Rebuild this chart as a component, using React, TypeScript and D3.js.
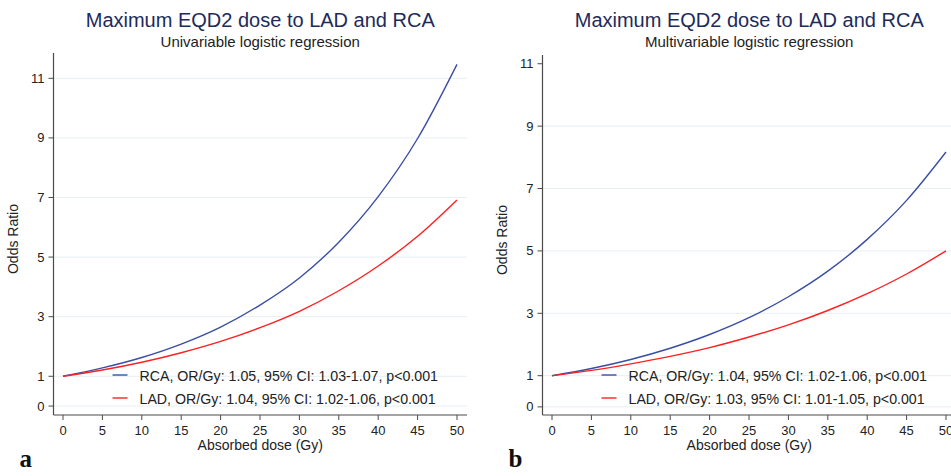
import React from "react";
import * as d3 from "d3";

// dose grid (Gy)
const DOSE = [0, 5, 10, 15, 20, 25, 30, 35, 40, 45, 50];

// panel a: univariable
const RCA_UNI = [1, 1.28, 1.63, 2.08, 2.65, 3.39, 4.3, 5.5, 7.03, 8.98, 11.47];
const LAD_UNI = [1, 1.21, 1.47, 1.79, 2.17, 2.63, 3.18, 3.87, 4.7, 5.7, 6.92];

// panel b: multivariable
const RCA_MULTI = [1, 1.23, 1.52, 1.88, 2.32, 2.86, 3.53, 4.35, 5.37, 6.62, 8.17];
const LAD_MULTI = [1, 1.17, 1.38, 1.62, 1.9, 2.24, 2.63, 3.09, 3.63, 4.26, 5.0];

const X_TICKS = [0, 5, 10, 15, 20, 25, 30, 35, 40, 45, 50];
const Y_TICKS = [0, 1, 3, 5, 7, 9, 11];

const TITLE = "Maximum EQD2 dose to LAD and RCA";
const LEGEND_A = [
  "RCA, OR/Gy: 1.05, 95% CI: 1.03-1.07, p<0.001",
  "LAD, OR/Gy: 1.04, 95% CI: 1.02-1.06, p<0.001",
];
const LEGEND_B = [
  "RCA, OR/Gy: 1.04, 95% CI: 1.02-1.06, p<0.001",
  "LAD, OR/Gy: 1.03, 95% CI: 1.01-1.05, p<0.001",
];

const BLUE = "#3a4ea3";
const RED = "#ff2020";
const GRID = "#e6eff2";
const AXIS = "#4a4a4a";
const FONT = "'Liberation Sans', Arial, sans-serif";

type PanelProps = {
  ox: number; // left edge of the plot area (axis line)
  yDomain: [number, number];
  yTop: number;
  subtitle: string;
  legend: string[];
  rca: number[];
  lad: number[];
  letter: string;
  gridTop: boolean;
};

const Panel = (p: PanelProps) => {
  const axisY = 415;
  const x = d3.scaleLinear().domain([0, 50]).range([p.ox + 9.5, p.ox + 403.5]);
  const y = d3.scaleLinear().domain(p.yDomain).range([axisY, p.yTop]);
  const right = p.ox + 413.5;
  const cx = (p.ox + right) / 2;

  const line = d3
    .line<number>()
    .x((_, i) => x(DOSE[i]))
    .y((d) => y(d))
    .curve(d3.curveMonotoneX);

  return (
    <g fontFamily={FONT}>
      <text x={cx} y={27} textAnchor="middle" fontSize={20} fill="#1d2b5b">
        {TITLE}
      </text>
      <text x={cx} y={47} textAnchor="middle" fontSize={15} fill="#222">
        {p.subtitle}
      </text>

      {Y_TICKS.filter((t) => p.gridTop || t !== 11).map((t) => (
        <line key={"g" + t} x1={p.ox} x2={right} y1={y(t)} y2={y(t)} stroke={GRID} strokeWidth={1} />
      ))}

      <line x1={p.ox} x2={p.ox} y1={p.yTop} y2={axisY} stroke={AXIS} strokeWidth={1.2} />
      <line x1={p.ox} x2={right} y1={axisY} y2={axisY} stroke={AXIS} strokeWidth={1.2} />

      {Y_TICKS.map((t) => (
        <g key={"y" + t}>
          <line x1={p.ox - 5} x2={p.ox} y1={y(t)} y2={y(t)} stroke={AXIS} strokeWidth={1} />
          <text x={p.ox - 9} y={y(t) + 4.5} textAnchor="end" fontSize={13} fill="#222">
            {t}
          </text>
        </g>
      ))}
      {X_TICKS.map((t) => (
        <g key={"x" + t}>
          <line x1={x(t)} x2={x(t)} y1={axisY} y2={axisY + 5} stroke={AXIS} strokeWidth={1} />
          <text x={x(t)} y={axisY + 20} textAnchor="middle" fontSize={13} fill="#222">
            {t}
          </text>
        </g>
      ))}

      <text
        transform={`translate(${p.ox - 36},${(p.yTop + axisY) / 2 + 5}) rotate(-90)`}
        textAnchor="middle"
        fontSize={14}
        fill="#222"
      >
        Odds Ratio
      </text>
      <text x={cx} y={axisY + 35} textAnchor="middle" fontSize={14} fill="#222">
        Absorbed dose (Gy)
      </text>

      <path d={line(p.rca) || ""} fill="none" stroke={BLUE} strokeWidth={1.4} />
      <path d={line(p.lad) || ""} fill="none" stroke={RED} strokeWidth={1.4} />

      {p.legend.map((s, i) => (
        <g key={"l" + i}>
          <line
            x1={p.ox + 59}
            x2={p.ox + 74}
            y1={375 + i * 23}
            y2={375 + i * 23}
            stroke={i === 0 ? BLUE : RED}
            strokeWidth={1.4}
          />
          <text x={p.ox + 86} y={381 + i * 23} fontSize={14.2} fill="#222">
            {s}
          </text>
        </g>
      ))}

      <text
        x={p.ox - 34}
        y={467}
        fontFamily="'Liberation Serif', 'Times New Roman', serif"
        fontWeight="bold"
        fontSize={25}
        fill="#111"
      >
        {p.letter}
      </text>
    </g>
  );
};

export default function App() {
  return (
    <div style={{ position: "fixed", left: 0, top: 0 }}>
      <svg width={951} height={476} style={{ display: "block", background: "#fff" }}>
        <Panel
          ox={53.5}
          yDomain={[-0.3, 11.85]}
          yTop={53}
          subtitle="Univariable logistic regression"
          legend={LEGEND_A}
          rca={RCA_UNI}
          lad={LAD_UNI}
          letter="a"
          gridTop={true}
        />
        <Panel
          ox={542.5}
          yDomain={[-0.26, 11.28]}
          yTop={55}
          subtitle="Multivariable logistic regression"
          legend={LEGEND_B}
          rca={RCA_MULTI}
          lad={LAD_MULTI}
          letter="b"
          gridTop={false}
        />
      </svg>
    </div>
  );
}
